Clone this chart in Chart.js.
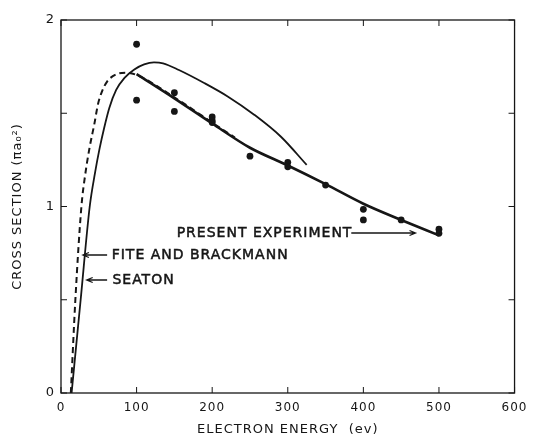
<!DOCTYPE html>
<html>
<head>
<meta charset="utf-8">
<script src="https://cdn.jsdelivr.net/npm/chart.js@4.4.0/dist/chart.umd.min.js"></script>
<style>
html,body{margin:0;padding:0;background:#fff}
#wrap{width:534px;height:438px}
</style>
</head>
<body>
<div id="wrap"><canvas id="myChart" width="534" height="438"></canvas></div>
<script>
// values: energy (ev) vs cross section (pi a0^2)
const seatonE = [14, 26, 38, 45, 51, 57, 64, 73, 84, 97, 110, 123, 135, 156, 190, 221, 256, 291, 325];
const seatonQ = [0, 0.5, 1.0, 1.18, 1.31, 1.42, 1.53, 1.625, 1.69, 1.735, 1.762, 1.773, 1.768, 1.732, 1.661, 1.589, 1.491, 1.374, 1.223];

const fiteE = [13, 19, 27, 32, 38, 44, 49, 54, 61, 74, 86, 100, 150, 200, 230];
const fiteQ = [0, 0.5, 1.0, 1.17, 1.32, 1.44, 1.55, 1.615, 1.67, 1.71, 1.717, 1.705, 1.585, 1.45, 1.37];

const presentE = [100, 150, 200, 250, 300, 350, 400, 450, 500];
const presentQ = [1.71, 1.58, 1.445, 1.315, 1.22, 1.12, 1.015, 0.928, 0.845];

const pointE = [100, 100, 150, 150, 200, 200, 200, 250, 300, 300, 350, 400, 400, 450, 500, 500];
const pointQ = [1.87, 1.57, 1.61, 1.51, 1.48, 1.46, 1.45, 1.27, 1.237, 1.213, 1.115, 0.985, 0.928, 0.928, 0.878, 0.856];

const xTicks = [0, 100, 200, 300, 400, 500, 600];
const yTicks = [0, 1, 2];

// text labels with arrows, in data coords
const notes = [
    {text:'PRESENT EXPERIMENT', x:153, y:0.858, a0:384, a1:469},
    {text:'FITE AND BRACKMANN', x:67, y:0.74, a0:61, a1:29},
    {text:'SEATON', x:68, y:0.606, a0:61, a1:34}
];

const ink = '#161616';
const fontFam = '"DejaVu Sans", sans-serif';
const pts = (xs, ys) => xs.map((v, i) => ({x:v, y:ys[i]}));

const frame = {
    id:'frame',
    beforeDraw(chart) { chart.ctx.letterSpacing = '1px'; },
    afterDraw(chart) {
        const ctx = chart.ctx, a = chart.chartArea;
        const xs = chart.scales.x, ys = chart.scales.y;
        ctx.save();
        ctx.strokeStyle = ink; ctx.lineWidth = 1.3;
        ctx.strokeRect(a.left, a.top, a.right - a.left, a.bottom - a.top);
        ctx.lineWidth = 1;
        ctx.beginPath();
        xs.ticks.forEach(t => {
            const px = xs.getPixelForValue(t.value);
            ctx.moveTo(px, a.bottom); ctx.lineTo(px, a.bottom - 6);
            ctx.moveTo(px, a.top); ctx.lineTo(px, a.top + 6);
        });
        ys.ticks.forEach(t => {
            const py = ys.getPixelForValue(t.value);
            ctx.moveTo(a.left, py); ctx.lineTo(a.left + 6, py);
            ctx.moveTo(a.right, py); ctx.lineTo(a.right - 6, py);
        });
        ctx.stroke();

        // notes + arrows
        ctx.font = '14px ' + fontFam;
        ctx.fillStyle = ink; ctx.textBaseline = 'middle'; ctx.textAlign = 'left';
        ctx.letterSpacing = '1px';
        notes.forEach(n => {
            const py = ys.getPixelForValue(n.y);
            const tx = xs.getPixelForValue(n.x);
            ctx.lineWidth = 0.5;
            ctx.fillText(n.text, tx, py);
            ctx.strokeText(n.text, tx, py);
            const p0 = xs.getPixelForValue(n.a0), p1 = xs.getPixelForValue(n.a1);
            const d = p1 > p0 ? -1 : 1;
            ctx.beginPath();
            ctx.lineWidth = 1.3;
            ctx.moveTo(p0, py); ctx.lineTo(p1, py);
            ctx.moveTo(p1 + d * 6, py - 2.5); ctx.lineTo(p1, py); ctx.lineTo(p1 + d * 6, py + 2.5);
            ctx.stroke();
        });
        ctx.restore();
    }
};

const ctx = document.getElementById('myChart').getContext('2d');
const myChart = new Chart(ctx, {
    data: {
        datasets: [{
            type:'line', label:'Seaton', data:pts(seatonE, seatonQ),
            borderColor:ink, borderWidth:1.8, pointRadius:0, cubicInterpolationMode:'monotone'
        },{
            type:'line', label:'Fite and Brackmann', data:pts(fiteE, fiteQ),
            borderColor:ink, borderWidth:2, borderDash:[6,4], pointRadius:0, cubicInterpolationMode:'monotone'
        },{
            type:'line', label:'Present experiment', data:pts(presentE, presentQ),
            borderColor:ink, borderWidth:2.6, pointRadius:0, cubicInterpolationMode:'monotone'
        },{
            type:'scatter', label:'points', data:pts(pointE, pointQ),
            backgroundColor:ink, borderWidth:0, pointRadius:3.4
        }]
    },
    options: {
        responsive:false,
        animation:false,
        devicePixelRatio:1,
        layout:{padding:{top:20, right:14, left:0, bottom:0}},
        plugins:{legend:{display:false}, tooltip:{enabled:false}},
        scales:{
            x:{
                type:'linear', min:0, max:600,
                afterFit(s) { s.height = 45; },
                afterBuildTicks(s) { s.ticks = xTicks.map(v => ({value:v})); },
                grid:{display:false, drawTicks:false}, border:{display:false},
                ticks:{color:ink, padding:8, font:{family:fontFam, size:12}},
                title:{display:true, text:'ELECTRON ENERGY  (ev)', color:ink,
                    font:{family:fontFam, size:13}, padding:{top:0, bottom:1}}
            },
            y:{
                type:'linear', min:0, max:2,
                afterFit(s) { s.width = 61; },
                ticks:{stepSize:0.5, color:ink, padding:6, font:{family:fontFam, size:13},
                    callback:v => yTicks.includes(v) ? v : ''},
                grid:{display:false, drawTicks:false}, border:{display:false},
                title:{display:true, text:'CROSS SECTION (\u03c0a\u2080\u00b2)', color:ink,
                    font:{family:fontFam, size:13}, padding:{top:10, bottom:0}}
            }
        }
    },
    plugins:[frame]
});
</script>
</body>
</html>
